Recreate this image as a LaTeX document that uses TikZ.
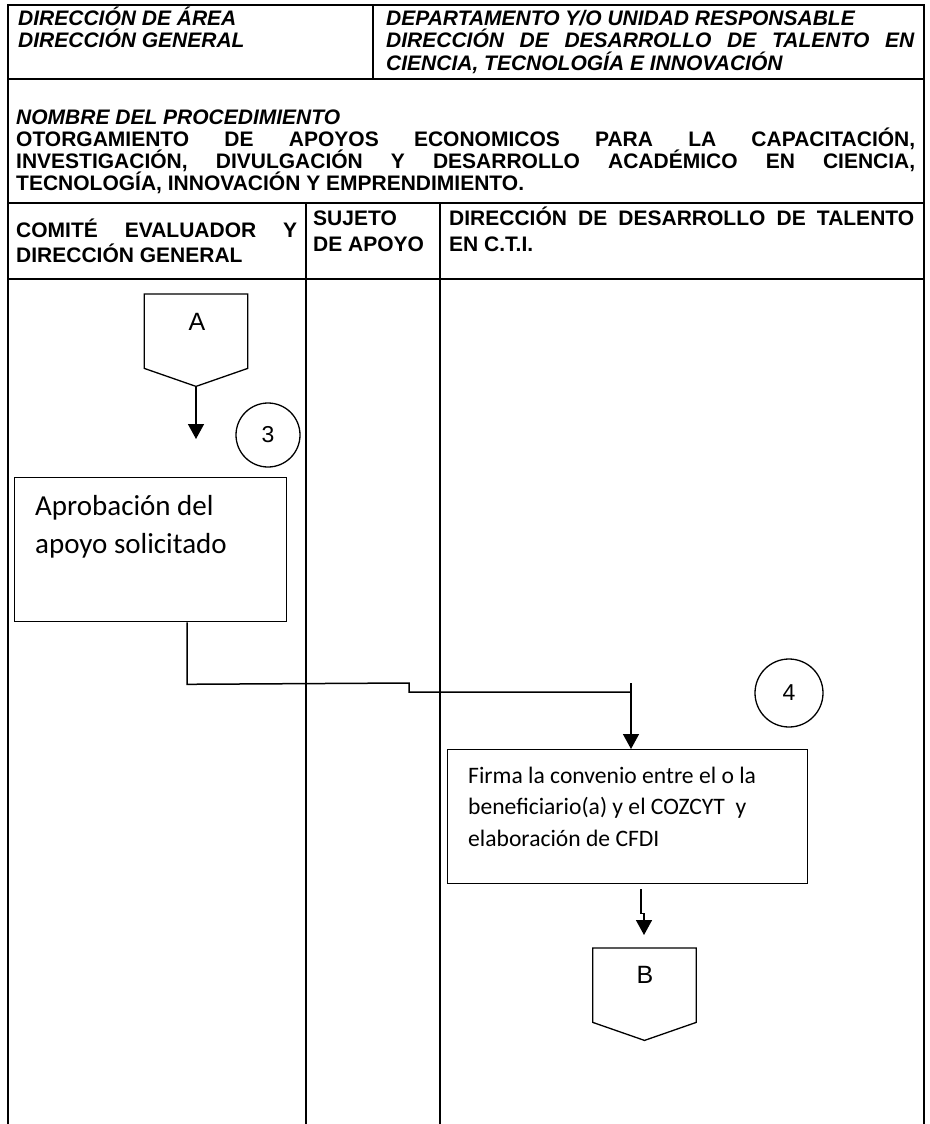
\documentclass[tikz,border=0pt]{standalone}
\usepackage{fontspec}
\setmainfont{Liberation Sans}
\newfontfamily\carl{Carlito}
\usetikzlibrary{arrows.meta,calc}
\tikzset{
 frameline/.style={line width=2pt},
 shp/.style={line width=1.3pt},
 conn/.style={line width=1.5pt},
 arr/.style={conn,-{Triangle[length=15pt,width=16pt]}},
 hd/.style={anchor=base west, inner sep=0pt, font=\fontsize{21}{22}\selectfont\bfseries\itshape},
 hb/.style={anchor=base west, inner sep=0pt, font=\fontsize{21}{22}\selectfont\bfseries},
 bta/.style={anchor=base west, inner sep=0pt, font=\fontsize{29}{39}\selectfont\carl},
 btb/.style={anchor=base west, inner sep=0pt, font=\fontsize{23.6}{32}\selectfont\carl},
 lbl/.style={inner sep=0pt, font=\fontsize{25}{28}\selectfont},
 procbox/.style={draw, shp, inner sep=0pt, anchor=north west},
 offpg/.style={inner sep=0pt, minimum width=103pt, minimum height=74pt, anchor=north},
 numcirc/.style={draw, shp, circle, inner sep=0pt, font=\fontsize{23}{26}\selectfont},
}
\begin{document}
\begin{tikzpicture}[x=1pt,y=-1pt]
\useasboundingbox (0,0) rectangle (929,1124);
% frame and lanes
\draw[frameline] (8,1124) -- (8,5) -- (924,5) -- (924,1124);
\draw[frameline] (373,5) -- (373,79);
\draw[frameline] (8,79) -- (924,79);
\draw[frameline] (8,203) -- (924,203);
\draw[frameline] (8,279) -- (924,279);
\draw[frameline] (306,203) -- (306,1124);
\draw[frameline] (440,203) -- (440,1124);
% header texts
\node[hd] (h1) at (18,25.5) {DIRECCIÓN DE ÁREA};
\node[hd] (h2) at (18,48) {DIRECCIÓN GENERAL};
\node[hd] (h3) at (386,25.5) {DEPARTAMENTO Y/O UNIDAD RESPONSABLE};
\node[hd] (h4) at (386,48) {\makebox[528pt][s]{DIRECCIÓN DE DESARROLLO DE TALENTO EN}};
\node[hd] (h5) at (386,70.5) {CIENCIA, TECNOLOGÍA E INNOVACIÓN};
\node[hd] (p0) at (16,124) {NOMBRE DEL PROCEDIMIENTO};
\node[hb] (p1) at (16,146.5) {\makebox[899pt][s]{OTORGAMIENTO DE APOYOS ECONOMICOS PARA LA CAPACITACIÓN,}};
\node[hb] (p2) at (16,168.5) {\makebox[899pt][s]{INVESTIGACIÓN, DIVULGACIÓN Y DESARROLLO ACADÉMICO EN CIENCIA,}};
\node[hb] (p3) at (16,190.5) {TECNOLOGÍA, INNOVACIÓN Y EMPRENDIMIENTO.};
% lane headers
\node[hb] (l1a) at (16,237) {\makebox[281pt][s]{COMITÉ EVALUADOR Y}};
\node[hb] (l1b) at (16,262) {DIRECCIÓN GENERAL};
\node[hb] (l2a) at (313,225) {SUJETO};
\node[hb] (l2b) at (313,251) {DE APOYO};
\node[hb] (l3a) at (449,225) {\makebox[465pt][s]{DIRECCIÓN DE DESARROLLO DE TALENTO}};
\node[hb] (l3b) at (449,251) {EN C.T.I.};
% off-page connector A
\node[offpg] (A) at (196,294) {};
\draw[shp] (A.north west) -- (A.north east) -- (A.south east) -- ($(A.south)+(0pt,-18pt)$) coordinate (Atip) -- (A.south west) -- cycle;
\node[lbl] (Al) at (197,322) {A};
\coordinate (Aend) at (196,439);
\draw[arr] (Atip) -- (Aend);
\node[numcirc, minimum size=64pt] (c3) at (268,435) {3};
% box 1
\node[procbox, minimum width=272pt, minimum height=144pt] (b1) at (14,477) {};
\node[bta] (b1t1) at (35,515) {Aprobación del};
\node[bta] (b1t2) at (35,553) {apoyo solicitado};
% circle 4
\node[numcirc, minimum size=68pt] (c4) at (789,693) {4};
% box 2
\node[procbox, minimum width=360pt, minimum height=134pt] (b2) at (447,749) {};
\node[btb] (b2t1) at (468,783) {Firma la convenio entre el o la};
\node[btb] (b2t2) at (468,814.5) {beneficiario(a) y el COZCYT\ \ y};
\node[btb] (b2t3) at (468,846) {elaboración de CFDI};
% connector box1 -> box2
\draw[conn] ($(b1.south west)+(173pt,0pt)$) -- ++(0pt,-62pt) -- (409,683) -- (409,692) -- (631,692);
\coordinate (j2) at (631,683);
\draw[arr] (j2) -- ($(b2.north west)+(184pt,0pt)$);
% off-page connector B
\node[offpg] (B) at (644.5,948) {};
\draw[shp] (B.north west) -- (B.north east) -- (B.south east) -- ($(B.south)+(0pt,-18pt)$) -- (B.south west) -- cycle;
\node[lbl] (Bl) at (645,975) {B};
\coordinate (Bend) at (644,935);
\draw[arr] ($(b2.south west)+(194pt,-5pt)$) -- ++(0pt,-24pt) -- ++(3pt,0pt) -- (Bend);
\end{tikzpicture}
\end{document}
